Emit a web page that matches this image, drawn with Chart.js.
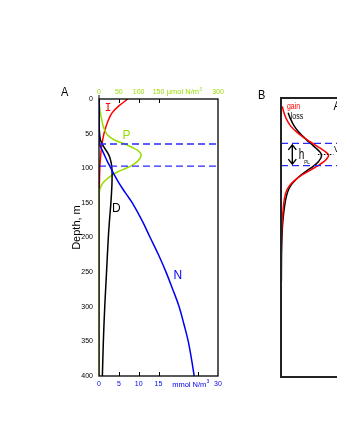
<!DOCTYPE html>
<html><head><meta charset="utf-8">
<script src="https://cdn.jsdelivr.net/npm/chart.js@4.4.1/dist/chart.umd.min.js"></script>
<style>
html,body{margin:0;padding:0;background:#fff;overflow:hidden;width:337px;height:436px;position:relative;}
canvas{position:absolute;top:0;}
#ca{left:0;}
#cb{left:240px;}
</style></head><body>
<canvas id="ca" width="232" height="436"></canvas>
<canvas id="cb" width="180" height="436"></canvas>
<script>
// ---------- Panel A data ----------
const depthTicks = [0,50,100,150,200,250,300,350,400];
const mmolTicks  = [0,5,10,15,20,25,30];
const umolTicks  = [0,50,100,150,200,250,300];
const mmolHidden = [20,25];
const umolHidden = [200,250];
const mmolMarks  = [5,10,15,25];
const umolMarks  = [50,100,150];

// Light I (umol scale)
const depthI = [0,10,20,30,40,50,60,70,80,90,100,125,150,200,400];
const valI   = [73,50,33,24,17.5,12.5,9,6.2,4.5,3,2,0.9,0.4,0.1,0];
// Phytoplankton P (umol scale)
const depthP = [0,10,20,30,40,50,55,60,65,70,75,80,85,90,95,100,105,110,115,120,125,130,135,140,400];
const valP   = [0.3,1.2,3.5,7,11,19,28,42,65,84,99,106,104,97,85,68,48,33,21,12,6,2.5,0.8,0,0];
// Nutrient N (mmol scale)
const depthN = [0,60,65,70,80,90,100,110,120,130,140,150,175,200,225,250,275,300,325,350,375,400];
const valN   = [0,0,0.15,0.5,1.3,2.1,3.0,3.9,4.9,6.0,7.2,8.4,10.8,12.9,15.0,16.9,18.6,20.2,21.4,22.5,23.3,24.0];
// Detritus D (mmol scale)
const depthD = [0,20,40,50,60,70,80,90,100,110,125,150,175,200,250,300,350,400];
const valD   = [0,0,0.05,0.15,0.4,1.3,2.4,3.0,3.25,3.3,3.25,3.0,2.65,2.35,1.9,1.45,1.1,0.85];
// Mixed-layer bounds (depth, m)
const mixedLayer = [65, 97];

// ---------- Panel B data ----------
const depthGain = [12,20,30,40,50,60,66,72,78,82,86,92,98,104,110,118,126,135,145,160,185,230];
const valGain   = [1.1,2.3,4.5,8,14,22,27.5,33,38,40,39,35.5,30,24,18,11.5,7,4.2,2.8,1.8,0.7,0.1];
const depthLoss = [21,30,40,50,60,66,72,78,82,86,92,98,104,110,118,126,135,145,160,185,220,263];
const valLoss   = [6,8,11,15.5,21.5,25.5,29.5,33,34,33.5,31,27,22,17,12,8,5.5,4,2.6,1.2,0.5,0.3];
const peakDepth = 81;
const peakSpan  = [31, 44];

// ---------- styles ----------
const FONT = "'Liberation Sans', Arial, Helvetica, sans-serif";
const GREEN = '#99dd00', BLUE = '#0000f0', DASH = '#2a2aff', RED = '#ff0000';

function pts(depths, vals){ return depths.map((d,i)=>({x: vals[i], y: d})); }
function curve(depths, vals, xAxisID, color, w, t){
  return {data: pts(depths, vals), xAxisID, yAxisID:'y', showLine:true, borderColor:color,
    borderWidth:w||1.5, pointRadius:0, tension:(t===undefined?0.4:t), fill:false};
}
function hline(depth, x0, x1, xAxisID, color, dash, w){
  return {data:[{x:x0,y:depth},{x:x1,y:depth}], xAxisID, yAxisID:'y', showLine:true,
    borderColor:color, borderWidth:w||1.3, borderDash:dash, pointRadius:0, tension:0, fill:false};
}
function txt(ctx, s, x, y, font, color, align, sy){
  ctx.save(); ctx.translate(x,y); ctx.scale(1, sy||1);
  ctx.font = font; ctx.fillStyle = color; ctx.textAlign = align||'center'; ctx.textBaseline='middle';
  ctx.fillText(s,0,0); ctx.restore();
}
function unitLabel(ctx, base, sup, cx, cy, color){
  ctx.save();
  ctx.font = '7.5px ' + FONT; const w1 = ctx.measureText(base).width;
  ctx.font = '5px ' + FONT; const w2 = ctx.measureText(sup).width;
  const x0 = cx - (w1+w2)/2;
  ctx.fillStyle = color; ctx.textBaseline='middle'; ctx.textAlign='left';
  ctx.font = '7.5px ' + FONT; ctx.fillText(base, x0, cy);
  ctx.font = '5px ' + FONT; ctx.fillText(sup, x0 + w1 + 0.3, cy - 2.5);
  ctx.restore();
}

const framePluginA = {
  id:'frameA',
  afterDatasetsDraw(chart){
    const {ctx, chartArea:a, scales} = chart;
    const xs = scales.x, x2 = scales.x2, ys = scales.y;
    ctx.save();
    ctx.strokeStyle = '#000'; ctx.lineWidth = 1.3;
    ctx.strokeRect(a.left, a.top, a.right-a.left, a.bottom-a.top);
    ctx.lineWidth = 1;
    ctx.beginPath();
    umolMarks.forEach(v=>{ const px = Math.round(x2.getPixelForValue(v))+0.5; ctx.moveTo(px,a.top); ctx.lineTo(px,a.top+4); });
    mmolMarks.forEach(v=>{ const px = Math.round(xs.getPixelForValue(v))+0.5; ctx.moveTo(px,a.bottom); ctx.lineTo(px,a.bottom-4); });
    ctx.moveTo(a.left, a.top); ctx.lineTo(a.left, a.top-4);
    ctx.stroke();
    ctx.restore();
    unitLabel(ctx, 'µmol N/m', '3', x2.getPixelForValue(215), a.top-7, GREEN);
    unitLabel(ctx, 'mmol N/m', '3', xs.getPixelForValue(23.1), a.bottom+8.5, BLUE);
    // curve labels (data coordinates)
    txt(ctx, 'I', x2.getPixelForValue(22.8), ys.getPixelForValue(13.4), "11px 'DejaVu Sans Mono', monospace", RED);
    txt(ctx, 'P', x2.getPixelForValue(69.4), ys.getPixelForValue(52.7), '12px ' + FONT, GREEN);
    txt(ctx, 'D', xs.getPixelForValue(4.4), ys.getPixelForValue(159), '12px ' + FONT, '#000');
    txt(ctx, 'N', xs.getPixelForValue(19.85), ys.getPixelForValue(255), '12px ' + FONT, BLUE);
    // panel letter and axis title
    txt(ctx, 'A', a.left-34.3, a.top-6.5, '11px ' + FONT, '#000', 'center', 1.2);
    ctx.save();
    ctx.translate(a.left-22, ys.getPixelForValue(185.6));
    ctx.rotate(-Math.PI/2);
    ctx.font = '11px ' + FONT; ctx.fillStyle='#000'; ctx.textAlign='center'; ctx.textBaseline='middle';
    ctx.fillText('Depth, m', 0, 0);
    ctx.restore();
  }
};

const tickFont = {family: FONT, size: 7};

new Chart(document.getElementById('ca'), {
  type:'scatter',
  data:{datasets:[
    hline(mixedLayer[0], 0, 30, 'x', DASH, [7,4]),
    hline(mixedLayer[1], 0, 30, 'x', DASH, [7,4]),
    curve(depthN, valN, 'x', BLUE),
    curve(depthD, valD, 'x', '#000'),
    curve(depthP, valP, 'x2', GREEN),
    curve(depthI, valI, 'x2', RED)
  ]},
  options:{
    responsive:false, animation:false, devicePixelRatio:1,
    layout:{padding:{left:0, top:0, right:14, bottom:0}},
    plugins:{legend:{display:false}, tooltip:{enabled:false}},
    scales:{
      x:{type:'linear', position:'bottom', min:0, max:30,
        afterBuildTicks:s=>{ s.ticks = mmolTicks.map(v=>({value:v})); },
        ticks:{font:tickFont, color:BLUE, padding:4, maxRotation:0, autoSkip:false,
          callback:v=> mmolHidden.includes(v) ? '' : String(v)},
        grid:{display:false, drawTicks:false}, border:{display:false},
        afterFit:s=>{ s.height = 60; }},
      x2:{type:'linear', position:'top', min:0, max:300,
        afterBuildTicks:s=>{ s.ticks = umolTicks.map(v=>({value:v})); },
        ticks:{font:tickFont, color:GREEN, padding:3, maxRotation:0, autoSkip:false,
          callback:v=> umolHidden.includes(v) ? '' : String(v)},
        grid:{display:false, drawTicks:false}, border:{display:false},
        afterFit:s=>{ s.height = 99; }},
      y:{type:'linear', position:'left', reverse:true, min:0, max:400,
        afterBuildTicks:s=>{ s.ticks = depthTicks.map(v=>({value:v})); },
        ticks:{font:tickFont, color:'#000', padding:6, autoSkip:false},
        grid:{display:false, drawTicks:false}, border:{display:false},
        afterFit:s=>{ s.width = 99; }}
    }
  },
  plugins:[framePluginA]
});

// ---------- Panel B ----------
const framePluginB = {
  id:'frameB',
  afterDatasetsDraw(chart){
    const {ctx, chartArea:a, scales} = chart;
    const xs = scales.x, ys = scales.y;
    ctx.save();
    ctx.strokeStyle = '#222'; ctx.lineWidth = 2;
    ctx.strokeRect(a.left, a.top, a.right-a.left, a.bottom-a.top);
    const ax = xs.getPixelForValue(9.5);
    const y1 = ys.getPixelForValue(mixedLayer[0]) + 1.5, y2 = ys.getPixelForValue(mixedLayer[1]) - 1.5;
    ctx.strokeStyle='#000'; ctx.lineWidth=1.4;
    ctx.beginPath();
    ctx.moveTo(ax, y1); ctx.lineTo(ax, y2);
    ctx.moveTo(ax-4, y1+5); ctx.lineTo(ax, y1); ctx.lineTo(ax+4, y1+5);
    ctx.moveTo(ax-4, y2-5); ctx.lineTo(ax, y2); ctx.lineTo(ax+4, y2-5);
    ctx.stroke();
    ctx.restore();
    txt(ctx, 'gain', xs.getPixelForValue(10.5), ys.getPixelForValue(11.5), '7px ' + FONT, RED, 'center', 1.35);
    txt(ctx, 'loss', xs.getPixelForValue(13.4), ys.getPixelForValue(26.5), '7px ' + FONT, '#000', 'center', 1.35);
    txt(ctx, 'h', xs.getPixelForValue(17.2), ys.getPixelForValue(81.7), '10px ' + FONT, '#000', 'center', 1.5);
    txt(ctx, 'PL', xs.getPixelForValue(21.8), ys.getPixelForValue(92.5), '4.5px ' + FONT, '#000', 'center', 1.2);
    txt(ctx, 'A', xs.getPixelForValue(44.2), ys.getPixelForValue(12.9), '11px ' + FONT, '#000', 'left', 1.1);
    txt(ctx, 'V', xs.getPixelForValue(44.5), ys.getPixelForValue(74.5), '8px ' + FONT, '#000', 'left', 1.1);
    txt(ctx, 'B', a.left-19.3, a.top-3, '11px ' + FONT, '#000', 'center', 1.2);
  }
};

new Chart(document.getElementById('cb'), {
  type:'scatter',
  data:{datasets:[
    hline(mixedLayer[0], 0, 100, 'x', DASH, [7,4]),
    hline(mixedLayer[1], 0, 100, 'x', DASH, [7,4]),
    hline(peakDepth, peakSpan[0], peakSpan[1], 'x', '#000', [1.5,1.5], 1),
    curve(depthGain, valGain, 'x', RED, 1.5, 0.3),
    curve(depthLoss, valLoss, 'x', '#000', 1.5, 0.3)
  ]},
  options:{
    responsive:false, animation:false, devicePixelRatio:1,
    layout:{padding:{left:41, top:98, right:20, bottom:59}},
    plugins:{legend:{display:false}, tooltip:{enabled:false}},
    scales:{
      x:{type:'linear', display:false, min:0, max:100},
      y:{type:'linear', display:false, reverse:true, min:0, max:400}
    }
  },
  plugins:[framePluginB]
});
</script>
</body></html>
